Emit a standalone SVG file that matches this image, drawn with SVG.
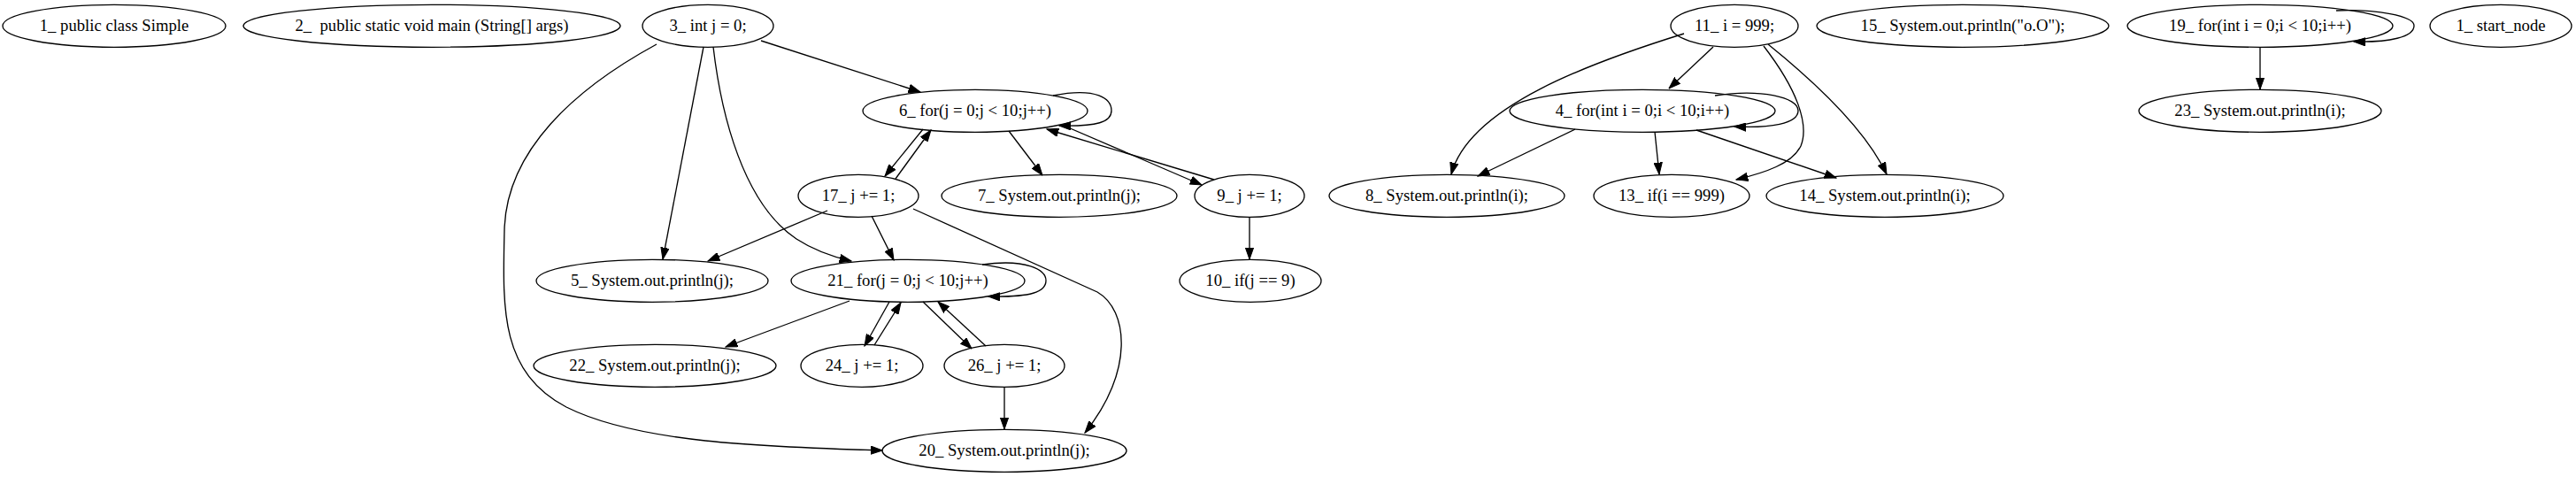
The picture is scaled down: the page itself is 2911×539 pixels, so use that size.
<svg xmlns="http://www.w3.org/2000/svg" width="2911" height="539" viewBox="0 0 2911 539">
<defs>
<marker id="ah" markerUnits="userSpaceOnUse" markerWidth="14" markerHeight="10" viewBox="0 0 14 10" refX="13.3" refY="5" orient="auto">
<path d="M0,0.3 L13.3,5 L0,9.7 z" fill="#000" stroke="#000" stroke-width="1"/>
</marker>
</defs>
<style>
.n ellipse{fill:none;stroke:#000;stroke-width:1.33}
.n text{font-family:"Liberation Serif","Times New Roman",serif;font-size:18.67px;text-anchor:middle;fill:#000;white-space:pre}
#edges path{fill:none;stroke:#000;stroke-width:1.33;marker-end:url(#ah)}
</style>
<rect width="2911" height="539" fill="#fff"/>
<g id="edges">
<path d="M860,46 L1040,104"/>
<path d="M795,53 L749,293"/>
<path d="M806,53 C815,130 840,230 900,270 C920,283 940,290 962,295"/>
<path d="M742,50 C650,100 572,170 570,260 C568,350 565,420 640,460 C720,500 860,505 997,509"/>
<path d="M1190,108 C1240,98 1256,112 1256,125 C1256,138 1240,143 1197,142"/>
<path d="M1043,146 L1000,199"/>
<path d="M1012,202 L1052,147"/>
<path d="M1140,148 L1178,198"/>
<path d="M1200,141 L1358,209"/>
<path d="M1372,203 L1183,146"/>
<path d="M935,238 L800,295"/>
<path d="M985,244 L1010,294"/>
<path d="M1032,236 L1240,330 C1275,350 1282,420 1226,489"/>
<path d="M1110,299 C1160,292 1182,305 1182,317 C1182,330 1165,336 1117,335"/>
<path d="M960,340 L820,392"/>
<path d="M1005,341 L977,391"/>
<path d="M988,390 L1018,342"/>
<path d="M1043,341 L1098,394"/>
<path d="M1114,391 L1060,341"/>
<path d="M1135,437 L1135,485"/>
<path d="M1412,245 L1412,293"/>
<path d="M1936,53 L1886,100"/>
<path d="M1903,38 C1800,70 1660,120 1640,197"/>
<path d="M1993,52 C2030,100 2045,140 2035,165 C2025,185 1995,195 1962,203"/>
<path d="M1998,50 C2060,100 2110,150 2132,197"/>
<path d="M1938,108 C1990,100 2032,110 2032,125 C2032,140 2000,145 1960,143"/>
<path d="M1780,146 L1670,199"/>
<path d="M1870,149 L1875,197"/>
<path d="M1917,147 L2075,201"/>
<path d="M2640,12 C2685,10 2728,18 2728,29 C2728,42 2700,48 2660,47"/>
<path d="M2554,53 L2554,101"/>
</g>
<g id="n1" class="n"><ellipse cx="129" cy="29.3" rx="126" ry="24"/><text x="129" y="35">1_ public class Simple</text></g>
<g id="n2" class="n"><ellipse cx="488" cy="29.3" rx="213" ry="24"/><text x="488" y="35">2_  public static void main (String[] args)</text></g>
<g id="n3" class="n"><ellipse cx="800" cy="29.3" rx="74" ry="24"/><text x="800" y="35">3_ int j = 0;</text></g>
<g id="n11" class="n"><ellipse cx="1960" cy="29.3" rx="72" ry="24"/><text x="1960" y="35">11_ i = 999;</text></g>
<g id="n15" class="n"><ellipse cx="2218" cy="29.3" rx="165" ry="24"/><text x="2218" y="35">15_ System.out.println("o.O");</text></g>
<g id="n19" class="n"><ellipse cx="2554" cy="29.3" rx="150" ry="24"/><text x="2554" y="35">19_ for(int i = 0;i &lt; 10;i++)</text></g>
<g id="n1s" class="n"><ellipse cx="2826" cy="29.3" rx="80" ry="24"/><text x="2826" y="35">1_ start_node</text></g>
<g id="n6" class="n"><ellipse cx="1102" cy="125.3" rx="127" ry="24"/><text x="1102" y="131">6_ for(j = 0;j &lt; 10;j++)</text></g>
<g id="n4" class="n"><ellipse cx="1856" cy="125.3" rx="150" ry="24"/><text x="1856" y="131">4_ for(int i = 0;i &lt; 10;i++)</text></g>
<g id="n23" class="n"><ellipse cx="2554" cy="125.3" rx="137" ry="24"/><text x="2554" y="131">23_ System.out.println(i);</text></g>
<g id="n17" class="n"><ellipse cx="970" cy="221.3" rx="68" ry="24"/><text x="970" y="227">17_ j += 1;</text></g>
<g id="n7" class="n"><ellipse cx="1197" cy="221.3" rx="133" ry="24"/><text x="1197" y="227">7_ System.out.println(j);</text></g>
<g id="n9" class="n"><ellipse cx="1412" cy="221.3" rx="62" ry="24"/><text x="1412" y="227">9_ j += 1;</text></g>
<g id="n8" class="n"><ellipse cx="1635" cy="221.3" rx="133" ry="24"/><text x="1635" y="227">8_ System.out.println(i);</text></g>
<g id="n13" class="n"><ellipse cx="1889" cy="221.3" rx="88" ry="24"/><text x="1889" y="227">13_ if(i == 999)</text></g>
<g id="n14" class="n"><ellipse cx="2130" cy="221.3" rx="134" ry="24"/><text x="2130" y="227">14_ System.out.println(i);</text></g>
<g id="n5" class="n"><ellipse cx="737" cy="317.3" rx="131" ry="24"/><text x="737" y="323">5_ System.out.println(j);</text></g>
<g id="n21" class="n"><ellipse cx="1026" cy="317.3" rx="132" ry="24"/><text x="1026" y="323">21_ for(j = 0;j &lt; 10;j++)</text></g>
<g id="n10" class="n"><ellipse cx="1413" cy="317.3" rx="80" ry="24"/><text x="1413" y="323">10_ if(j == 9)</text></g>
<g id="n22" class="n"><ellipse cx="740" cy="413.3" rx="137" ry="24"/><text x="740" y="419">22_ System.out.println(j);</text></g>
<g id="n24" class="n"><ellipse cx="974" cy="413.3" rx="69" ry="24"/><text x="974" y="419">24_ j += 1;</text></g>
<g id="n26" class="n"><ellipse cx="1135" cy="413.3" rx="68" ry="24"/><text x="1135" y="419">26_ j += 1;</text></g>
<g id="n20" class="n"><ellipse cx="1135" cy="509.3" rx="138" ry="24"/><text x="1135" y="515">20_ System.out.println(j);</text></g>
</svg>
